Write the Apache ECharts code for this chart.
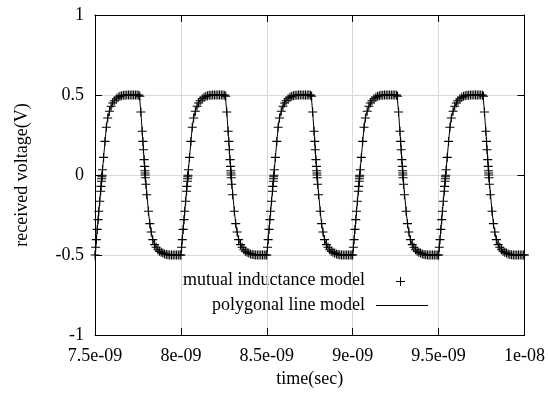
<!DOCTYPE html>
<html>
<head>
<meta charset="utf-8">
<script src="https://cdn.jsdelivr.net/npm/echarts@6/dist/echarts.min.js"></script>
<style>
  html, body { margin: 0; padding: 0; background: #ffffff; }
  #chart { width: 548px; height: 412px; }
</style>
</head>
<body>
<div id="chart"></div>
<script>
// Start of each drive cycle (ns); the waveform repeats every 0.5 ns
const cycleStarts = [7.5, 8.0, 8.5, 9.0, 9.5];

// Sample instants inside a cycle (ns after the cycle start), mutual inductance model
const mutualOffsets = [
  0, 0.004, 0.008, 0.013, 0.018, 0.022, 0.0275, 0.033, 0.035, 0.038, 0.039, 0.040,
  0.041, 0.044, 0.050, 0.058, 0.066, 0.074, 0.084, 0.094, 0.103, 0.112, 0.124, 0.135,
  0.145, 0.155, 0.165, 0.175, 0.185, 0.195, 0.205, 0.215, 0.225, 0.235, 0.245, 0.255,
  0.261, 0.267, 0.275, 0.279, 0.282, 0.286, 0.289, 0.2905, 0.2915, 0.292, 0.293, 0.296,
  0.301, 0.311, 0.319, 0.327, 0.336, 0.347, 0.356, 0.366, 0.375, 0.385, 0.395, 0.405,
  0.415, 0.425, 0.435, 0.445, 0.455, 0.465, 0.475, 0.485, 0.495
];

// Received voltage (V) of the mutual inductance model, one array per cycle
const mutualCycle1 = [
  -0.5, -0.452, -0.404, -0.34, -0.279, -0.227, -0.164, -0.102, -0.071, -0.039, -0.023, -0.011,
  -0.002, 0.033, 0.11, 0.21, 0.298, 0.356, 0.398, 0.43, 0.45, 0.464, 0.477, 0.486,
  0.492, 0.496, 0.498, 0.499, 0.5, 0.5, 0.5, 0.5, 0.5, 0.5, 0.5, 0.499,
  0.492, 0.394, 0.273, 0.21, 0.158, 0.096, 0.054, 0.027, 0.013, 0, -0.017, -0.058,
  -0.123, -0.227, -0.304, -0.356, -0.404, -0.435, -0.452, -0.467, -0.477, -0.483, -0.488, -0.493,
  -0.497, -0.499, -0.5, -0.5, -0.5, -0.5, -0.5, -0.5, -0.5
];
const mutualCycle2 = [
  -0.5, -0.452, -0.404, -0.34, -0.279, -0.227, -0.164, -0.102, -0.071, -0.039, -0.023, -0.011,
  -0.002, 0.033, 0.11, 0.21, 0.298, 0.356, 0.398, 0.43, 0.45, 0.464, 0.477, 0.486,
  0.492, 0.496, 0.498, 0.499, 0.5, 0.5, 0.5, 0.5, 0.5, 0.5, 0.5, 0.499,
  0.492, 0.394, 0.273, 0.21, 0.158, 0.096, 0.054, 0.027, 0.013, 0, -0.017, -0.058,
  -0.123, -0.227, -0.304, -0.356, -0.404, -0.435, -0.452, -0.467, -0.477, -0.483, -0.488, -0.493,
  -0.497, -0.499, -0.5, -0.5, -0.5, -0.5, -0.5, -0.5, -0.5
];
const mutualCycle3 = [
  -0.5, -0.452, -0.404, -0.34, -0.279, -0.227, -0.164, -0.102, -0.071, -0.039, -0.023, -0.011,
  -0.002, 0.033, 0.11, 0.21, 0.298, 0.356, 0.398, 0.43, 0.45, 0.464, 0.477, 0.486,
  0.492, 0.496, 0.498, 0.499, 0.5, 0.5, 0.5, 0.5, 0.5, 0.5, 0.5, 0.499,
  0.492, 0.394, 0.273, 0.21, 0.158, 0.096, 0.054, 0.027, 0.013, 0, -0.017, -0.058,
  -0.123, -0.227, -0.304, -0.356, -0.404, -0.435, -0.452, -0.467, -0.477, -0.483, -0.488, -0.493,
  -0.497, -0.499, -0.5, -0.5, -0.5, -0.5, -0.5, -0.5, -0.5
];
const mutualCycle4 = [
  -0.5, -0.452, -0.404, -0.34, -0.279, -0.227, -0.164, -0.102, -0.071, -0.039, -0.023, -0.011,
  -0.002, 0.033, 0.11, 0.21, 0.298, 0.356, 0.398, 0.43, 0.45, 0.464, 0.477, 0.486,
  0.492, 0.496, 0.498, 0.499, 0.5, 0.5, 0.5, 0.5, 0.5, 0.5, 0.5, 0.499,
  0.492, 0.394, 0.273, 0.21, 0.158, 0.096, 0.054, 0.027, 0.013, 0, -0.017, -0.058,
  -0.123, -0.227, -0.304, -0.356, -0.404, -0.435, -0.452, -0.467, -0.477, -0.483, -0.488, -0.493,
  -0.497, -0.499, -0.5, -0.5, -0.5, -0.5, -0.5, -0.5, -0.5
];
const mutualCycle5 = [
  -0.5, -0.452, -0.404, -0.34, -0.279, -0.227, -0.164, -0.102, -0.071, -0.039, -0.023, -0.011,
  -0.002, 0.033, 0.11, 0.21, 0.298, 0.356, 0.398, 0.43, 0.45, 0.464, 0.477, 0.486,
  0.492, 0.496, 0.498, 0.499, 0.5, 0.5, 0.5, 0.5, 0.5, 0.5, 0.5, 0.499,
  0.492, 0.394, 0.273, 0.21, 0.158, 0.096, 0.054, 0.027, 0.013, 0, -0.017, -0.058,
  -0.123, -0.227, -0.304, -0.356, -0.404, -0.435, -0.452, -0.467, -0.477, -0.483, -0.488, -0.493,
  -0.497, -0.499, -0.5, -0.5, -0.5, -0.5, -0.5, -0.5, -0.5
];
const mutualCycles = [mutualCycle1, mutualCycle2, mutualCycle3, mutualCycle4, mutualCycle5];

// Vertices of the polygonal line model inside a cycle (ns after the cycle start)
const polyOffsets = [
  0, 0.041, 0.06, 0.066, 0.074, 0.084, 0.094, 0.103, 0.112, 0.124, 0.145, 0.17, 0.185,
  0.258, 0.267, 0.292, 0.311, 0.319, 0.327, 0.336, 0.347, 0.356, 0.375, 0.395, 0.415, 0.435
];
const polyCycle1 = [
  -0.5, 0, 0.23, 0.298, 0.356, 0.398, 0.43, 0.45, 0.464, 0.477, 0.492, 0.499, 0.5,
  0.5, 0.394, 0, -0.227, -0.304, -0.356, -0.404, -0.435, -0.452, -0.477, -0.488, -0.497, -0.5
];
const polyCycle2 = [
  -0.5, 0, 0.23, 0.298, 0.356, 0.398, 0.43, 0.45, 0.464, 0.477, 0.492, 0.499, 0.5,
  0.5, 0.394, 0, -0.227, -0.304, -0.356, -0.404, -0.435, -0.452, -0.477, -0.488, -0.497, -0.5
];
const polyCycle3 = [
  -0.5, 0, 0.23, 0.298, 0.356, 0.398, 0.43, 0.45, 0.464, 0.477, 0.492, 0.499, 0.5,
  0.5, 0.394, 0, -0.227, -0.304, -0.356, -0.404, -0.435, -0.452, -0.477, -0.488, -0.497, -0.5
];
const polyCycle4 = [
  -0.5, 0, 0.23, 0.298, 0.356, 0.398, 0.43, 0.45, 0.464, 0.477, 0.492, 0.499, 0.5,
  0.5, 0.394, 0, -0.227, -0.304, -0.356, -0.404, -0.435, -0.452, -0.477, -0.488, -0.497, -0.5
];
const polyCycle5 = [
  -0.5, 0, 0.23, 0.298, 0.356, 0.398, 0.43, 0.45, 0.464, 0.477, 0.492, 0.499, 0.5,
  0.5, 0.394, 0, -0.227, -0.304, -0.356, -0.404, -0.435, -0.452, -0.477, -0.488, -0.497, -0.5
];
const polyCycles = [polyCycle1, polyCycle2, polyCycle3, polyCycle4, polyCycle5];

// Final sample at the end of the window (time ns, volts)
const endSample = [10.0, -0.5];

// Axis ticks
const xTickValues = [7.5, 8.0, 8.5, 9.0, 9.5, 10.0];
const xTickLabels = ['7.5e-09', '8e-09', '8.5e-09', '9e-09', '9.5e-09', '1e-08'];
const seriesNames = ['mutual inductance model', 'polygonal line model'];

function buildPoints(offsets, cycles) {
  const pts = [];
  cycleStarts.forEach((start, c) => {
    offsets.forEach((off, i) => pts.push([+(start + off).toFixed(5), cycles[c][i]]));
  });
  pts.push(endSample.slice());
  return pts;
}
const mutualPoints = buildPoints(mutualOffsets, mutualCycles);
const polyPoints = buildPoints(polyOffsets, polyCycles);

const FONT = 'Liberation Serif, Times New Roman, serif';
const labelStyle = { fontFamily: FONT, fontSize: 18, color: '#000' };
// "+" point marker drawn as two crossed bars
const crossSymbol = 'path://M0,4.4H10V5.6H0ZM4.4,0H5.6V10H4.4Z';

const chart = echarts.init(document.getElementById('chart'), null, { renderer: 'canvas' });

const xCommon = { type: 'value', min: 7.5, max: 10, interval: 0.5 };
const yCommon = { type: 'value', min: -1, max: 1, interval: 0.5 };
const axisLine = { show: true, onZero: false, lineStyle: { color: '#000', width: 1 } };
const axisTick = { show: true, inside: true, length: 7, lineStyle: { color: '#000', width: 1 } };

chart.setOption({
  animation: false,
  backgroundColor: '#ffffff',
  grid: { left: 95, right: 23, top: 15, bottom: 77, containLabel: false },
  xAxis: [
    Object.assign({}, xCommon, {
      position: 'bottom',
      axisLine, axisTick,
      axisLabel: Object.assign({}, labelStyle, {
        margin: 12,
        formatter: v => {
          const i = xTickValues.findIndex(t => Math.abs(t - v) < 1e-6);
          return i >= 0 ? xTickLabels[i] : '';
        }
      }),
      splitLine: { show: true, lineStyle: { color: '#d9d9d9', width: 1 } },
      name: 'time(sec)',
      nameLocation: 'middle',
      nameGap: 28,
      nameTextStyle: labelStyle
    }),
    Object.assign({}, xCommon, {
      position: 'top',
      axisLine, axisTick,
      axisLabel: { show: false },
      splitLine: { show: false }
    })
  ],
  yAxis: [
    Object.assign({}, yCommon, {
      position: 'left',
      axisLine, axisTick,
      axisLabel: Object.assign({}, labelStyle, { margin: 11 }),
      splitLine: { show: true, lineStyle: { color: '#d9d9d9', width: 1 } },
      name: 'received voltage(V)',
      nameLocation: 'middle',
      nameGap: 64,
      nameTextStyle: labelStyle
    }),
    Object.assign({}, yCommon, {
      position: 'right',
      axisLine, axisTick,
      axisLabel: { show: false },
      splitLine: { show: false }
    })
  ],
  series: [
    {
      name: seriesNames[1],
      type: 'line',
      xAxisIndex: 0,
      yAxisIndex: 0,
      data: polyPoints,
      showSymbol: false,
      symbol: 'none',
      lineStyle: { color: '#000', width: 1 },
      z: 2
    },
    {
      name: seriesNames[0],
      type: 'scatter',
      xAxisIndex: 0,
      yAxisIndex: 0,
      data: mutualPoints,
      symbol: crossSymbol,
      symbolSize: 9,
      itemStyle: { color: '#000', opacity: 1 },
      z: 3
    }
  ],
  graphic: [
    { type: 'text', x: 365, y: 280,
      style: { text: seriesNames[0], fill: '#000', font: '18px ' + FONT, align: 'right', verticalAlign: 'middle' } },
    { type: 'line', shape: { x1: 396, y1: 281.5, x2: 405, y2: 281.5 }, style: { stroke: '#000', lineWidth: 1 } },
    { type: 'line', shape: { x1: 400.5, y1: 277, x2: 400.5, y2: 286 }, style: { stroke: '#000', lineWidth: 1 } },
    { type: 'text', x: 365, y: 305,
      style: { text: seriesNames[1], fill: '#000', font: '18px ' + FONT, align: 'right', verticalAlign: 'middle' } },
    { type: 'line', shape: { x1: 376, y1: 305.5, x2: 428, y2: 305.5 }, style: { stroke: '#000', lineWidth: 1 } }
  ]
});
</script>
</body>
</html>
